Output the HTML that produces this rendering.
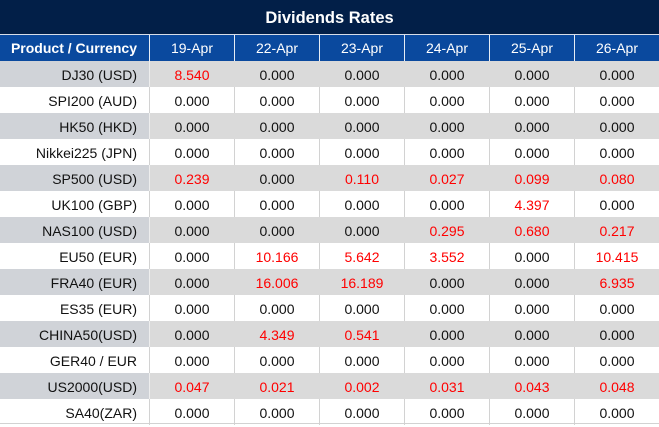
<!DOCTYPE html>
<html>
<head>
<meta charset="utf-8">
<style>
  html, body { margin:0; padding:0; background:#ffffff; }
  body { width:659px; height:426px; overflow:hidden; font-family:"Liberation Sans", Arial, sans-serif; }
  .title { height:34px; background:#021f48; color:#fff; font-weight:bold; font-size:16.5px; text-align:center; line-height:36px; border-bottom:1px solid #d8dde8; }
  .row { display:flex; height:26px; }
  .c { box-sizing:border-box; height:26px; width:85px; text-align:center; font-size:14px; line-height:28px; color:#111; border-right:1px solid #d2d2d2; }
  .c.first { width:150px; text-align:right; padding-right:12px; }
  .c.last { width:84px; border-right:none; }
  .hdr { background:#0a499e; }
  .hdr .c { color:#fff; border-right:1px solid #e6ecf5; line-height:26px; }
  .hdr .c.first { font-weight:bold; }
  .hdr .c.last { border-right:none; }
  .g .c { background:#dadada; border-right-color:#dadada; }
  .g .c.first { background:#d0d3d8; border-right-color:#eeeeee; }
  .w .c { background:#fff; }
  .r { color:#ff0000 !important; }
  .bottom { height:1px; background:#d2d2d2; width:659px; margin-top:-2px; position:relative; }
</style>
</head>
<body>
<div class="title">Dividends Rates</div>
<div class="row hdr"><div class="c first">Product / Currency</div><div class="c">19-Apr</div><div class="c">22-Apr</div><div class="c">23-Apr</div><div class="c">24-Apr</div><div class="c">25-Apr</div><div class="c last">26-Apr</div></div>

<div class="row g"><div class="c first">DJ30 (USD)</div><div class="c r">8.540</div><div class="c">0.000</div><div class="c">0.000</div><div class="c">0.000</div><div class="c">0.000</div><div class="c last">0.000</div></div>
<div class="row w"><div class="c first">SPI200 (AUD)</div><div class="c">0.000</div><div class="c">0.000</div><div class="c">0.000</div><div class="c">0.000</div><div class="c">0.000</div><div class="c last">0.000</div></div>
<div class="row g"><div class="c first">HK50 (HKD)</div><div class="c">0.000</div><div class="c">0.000</div><div class="c">0.000</div><div class="c">0.000</div><div class="c">0.000</div><div class="c last">0.000</div></div>
<div class="row w"><div class="c first">Nikkei225 (JPN)</div><div class="c">0.000</div><div class="c">0.000</div><div class="c">0.000</div><div class="c">0.000</div><div class="c">0.000</div><div class="c last">0.000</div></div>
<div class="row g"><div class="c first">SP500 (USD)</div><div class="c r">0.239</div><div class="c">0.000</div><div class="c r">0.110</div><div class="c r">0.027</div><div class="c r">0.099</div><div class="c last r">0.080</div></div>
<div class="row w"><div class="c first">UK100 (GBP)</div><div class="c">0.000</div><div class="c">0.000</div><div class="c">0.000</div><div class="c">0.000</div><div class="c r">4.397</div><div class="c last">0.000</div></div>
<div class="row g"><div class="c first">NAS100 (USD)</div><div class="c">0.000</div><div class="c">0.000</div><div class="c">0.000</div><div class="c r">0.295</div><div class="c r">0.680</div><div class="c last r">0.217</div></div>
<div class="row w"><div class="c first">EU50 (EUR)</div><div class="c">0.000</div><div class="c r">10.166</div><div class="c r">5.642</div><div class="c r">3.552</div><div class="c">0.000</div><div class="c last r">10.415</div></div>
<div class="row g"><div class="c first">FRA40 (EUR)</div><div class="c">0.000</div><div class="c r">16.006</div><div class="c r">16.189</div><div class="c">0.000</div><div class="c">0.000</div><div class="c last r">6.935</div></div>
<div class="row w"><div class="c first">ES35 (EUR)</div><div class="c">0.000</div><div class="c">0.000</div><div class="c">0.000</div><div class="c">0.000</div><div class="c">0.000</div><div class="c last">0.000</div></div>
<div class="row g"><div class="c first">CHINA50(USD)</div><div class="c">0.000</div><div class="c r">4.349</div><div class="c r">0.541</div><div class="c">0.000</div><div class="c">0.000</div><div class="c last">0.000</div></div>
<div class="row w"><div class="c first">GER40 / EUR</div><div class="c">0.000</div><div class="c">0.000</div><div class="c">0.000</div><div class="c">0.000</div><div class="c">0.000</div><div class="c last">0.000</div></div>
<div class="row g"><div class="c first">US2000(USD)</div><div class="c r">0.047</div><div class="c r">0.021</div><div class="c r">0.002</div><div class="c r">0.031</div><div class="c r">0.043</div><div class="c last r">0.048</div></div>
<div class="row w"><div class="c first">SA40(ZAR)</div><div class="c">0.000</div><div class="c">0.000</div><div class="c">0.000</div><div class="c">0.000</div><div class="c">0.000</div><div class="c last">0.000</div></div>
<div class="bottom"></div>
</body>
</html>
